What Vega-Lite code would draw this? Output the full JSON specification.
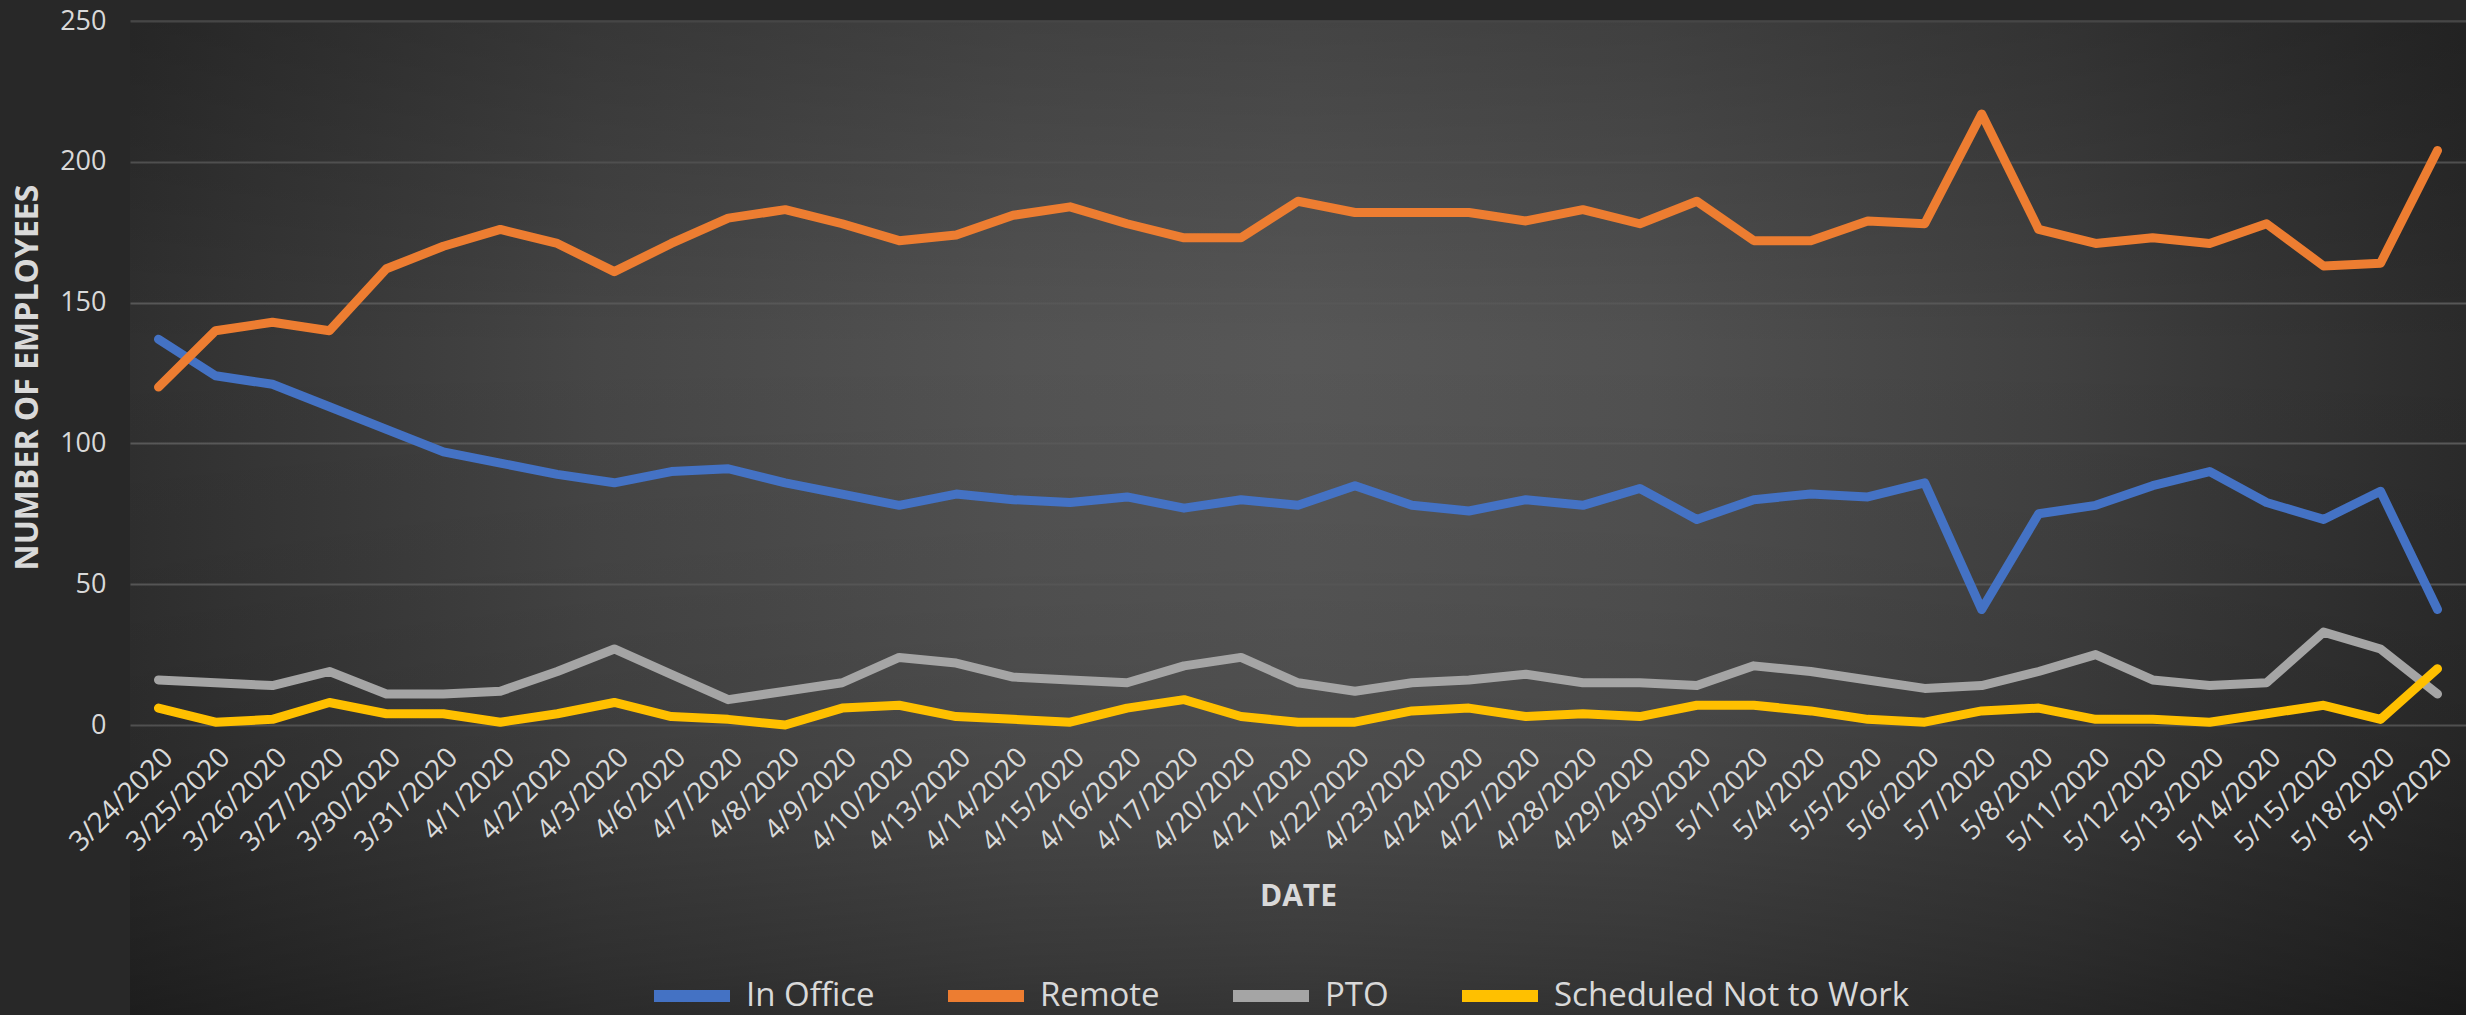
{
  "$schema": "https://vega.github.io/schema/vega-lite/v6.json",
  "width": 2336,
  "height": 994,
  "autosize": {"type": "none"},
  "padding": {"left": 130, "top": 21, "right": 0, "bottom": 0},
  "background": "#282828",
  "config": {
    "font": "Open Sans",
    "view": {
      "stroke": null,
      "fill": {
        "gradient": "linear", "x1": 0, "y1": 0, "x2": 1, "y2": 0,
        "stops": [
          {"offset": 0, "color": "#303030"},
          {"offset": 0.2, "color": "#464646"},
          {"offset": 0.38, "color": "#535353"},
          {"offset": 0.5, "color": "#575757"},
          {"offset": 0.65, "color": "#515151"},
          {"offset": 0.82, "color": "#414141"},
          {"offset": 1, "color": "#2b2b2b"}
        ]
      }
    },
    "axis": {"tickSize": 0, "ticks": false, "domain": false}
  },
  "datasets": {
    "counts": [
      {"date": "3/24/2020", "In Office": 137, "Remote": 120, "PTO": 16, "Scheduled Not to Work": 6},
      {"date": "3/25/2020", "In Office": 124, "Remote": 140, "PTO": 15, "Scheduled Not to Work": 1},
      {"date": "3/26/2020", "In Office": 121, "Remote": 143, "PTO": 14, "Scheduled Not to Work": 2},
      {"date": "3/27/2020", "In Office": 113, "Remote": 140, "PTO": 19, "Scheduled Not to Work": 8},
      {"date": "3/30/2020", "In Office": 105, "Remote": 162, "PTO": 11, "Scheduled Not to Work": 4},
      {"date": "3/31/2020", "In Office": 97, "Remote": 170, "PTO": 11, "Scheduled Not to Work": 4},
      {"date": "4/1/2020", "In Office": 93, "Remote": 176, "PTO": 12, "Scheduled Not to Work": 1},
      {"date": "4/2/2020", "In Office": 89, "Remote": 171, "PTO": 19, "Scheduled Not to Work": 4},
      {"date": "4/3/2020", "In Office": 86, "Remote": 161, "PTO": 27, "Scheduled Not to Work": 8},
      {"date": "4/6/2020", "In Office": 90, "Remote": 171, "PTO": 18, "Scheduled Not to Work": 3},
      {"date": "4/7/2020", "In Office": 91, "Remote": 180, "PTO": 9, "Scheduled Not to Work": 2},
      {"date": "4/8/2020", "In Office": 86, "Remote": 183, "PTO": 12, "Scheduled Not to Work": 0},
      {"date": "4/9/2020", "In Office": 82, "Remote": 178, "PTO": 15, "Scheduled Not to Work": 6},
      {"date": "4/10/2020", "In Office": 78, "Remote": 172, "PTO": 24, "Scheduled Not to Work": 7},
      {"date": "4/13/2020", "In Office": 82, "Remote": 174, "PTO": 22, "Scheduled Not to Work": 3},
      {"date": "4/14/2020", "In Office": 80, "Remote": 181, "PTO": 17, "Scheduled Not to Work": 2},
      {"date": "4/15/2020", "In Office": 79, "Remote": 184, "PTO": 16, "Scheduled Not to Work": 1},
      {"date": "4/16/2020", "In Office": 81, "Remote": 178, "PTO": 15, "Scheduled Not to Work": 6},
      {"date": "4/17/2020", "In Office": 77, "Remote": 173, "PTO": 21, "Scheduled Not to Work": 9},
      {"date": "4/20/2020", "In Office": 80, "Remote": 173, "PTO": 24, "Scheduled Not to Work": 3},
      {"date": "4/21/2020", "In Office": 78, "Remote": 186, "PTO": 15, "Scheduled Not to Work": 1},
      {"date": "4/22/2020", "In Office": 85, "Remote": 182, "PTO": 12, "Scheduled Not to Work": 1},
      {"date": "4/23/2020", "In Office": 78, "Remote": 182, "PTO": 15, "Scheduled Not to Work": 5},
      {"date": "4/24/2020", "In Office": 76, "Remote": 182, "PTO": 16, "Scheduled Not to Work": 6},
      {"date": "4/27/2020", "In Office": 80, "Remote": 179, "PTO": 18, "Scheduled Not to Work": 3},
      {"date": "4/28/2020", "In Office": 78, "Remote": 183, "PTO": 15, "Scheduled Not to Work": 4},
      {"date": "4/29/2020", "In Office": 84, "Remote": 178, "PTO": 15, "Scheduled Not to Work": 3},
      {"date": "4/30/2020", "In Office": 73, "Remote": 186, "PTO": 14, "Scheduled Not to Work": 7},
      {"date": "5/1/2020", "In Office": 80, "Remote": 172, "PTO": 21, "Scheduled Not to Work": 7},
      {"date": "5/4/2020", "In Office": 82, "Remote": 172, "PTO": 19, "Scheduled Not to Work": 5},
      {"date": "5/5/2020", "In Office": 81, "Remote": 179, "PTO": 16, "Scheduled Not to Work": 2},
      {"date": "5/6/2020", "In Office": 86, "Remote": 178, "PTO": 13, "Scheduled Not to Work": 1},
      {"date": "5/7/2020", "In Office": 41, "Remote": 217, "PTO": 14, "Scheduled Not to Work": 5},
      {"date": "5/8/2020", "In Office": 75, "Remote": 176, "PTO": 19, "Scheduled Not to Work": 6},
      {"date": "5/11/2020", "In Office": 78, "Remote": 171, "PTO": 25, "Scheduled Not to Work": 2},
      {"date": "5/12/2020", "In Office": 85, "Remote": 173, "PTO": 16, "Scheduled Not to Work": 2},
      {"date": "5/13/2020", "In Office": 90, "Remote": 171, "PTO": 14, "Scheduled Not to Work": 1},
      {"date": "5/14/2020", "In Office": 79, "Remote": 178, "PTO": 15, "Scheduled Not to Work": 4},
      {"date": "5/15/2020", "In Office": 73, "Remote": 163, "PTO": 33, "Scheduled Not to Work": 7},
      {"date": "5/18/2020", "In Office": 83, "Remote": 164, "PTO": 27, "Scheduled Not to Work": 2},
      {"date": "5/19/2020", "In Office": 41, "Remote": 204, "PTO": 11, "Scheduled Not to Work": 20}
    ],
    "shade": [{"part": "background"}]
  },
  "layer": [
    {
      "data": {"name": "shade"},
      "mark": {
        "type": "rect",
        "fill": {
          "gradient": "linear", "x1": 0, "y1": 0, "x2": 0, "y2": 1,
          "stops": [
            {"offset": 0, "color": "rgba(0,0,0,0.22)"},
            {"offset": 0.33, "color": "rgba(0,0,0,0)"},
            {"offset": 0.55, "color": "rgba(0,0,0,0.05)"},
            {"offset": 0.73, "color": "rgba(0,0,0,0.12)"},
            {"offset": 0.82, "color": "rgba(0,0,0,0.2)"},
            {"offset": 0.95, "color": "rgba(0,0,0,0.33)"},
            {"offset": 1, "color": "rgba(0,0,0,0.4)"}
          ]
        }
      },
      "encoding": {}
    },
    {
      "data": {"name": "counts"},
      "transform": [
        {"fold": ["In Office", "Remote", "PTO", "Scheduled Not to Work"], "as": ["series", "employees"]}
      ],
      "mark": {"type": "line", "strokeWidth": 9, "strokeJoin": "round", "strokeCap": "round"},
      "encoding": {
        "x": {
          "field": "date",
          "type": "ordinal",
          "sort": null,
          "scale": {"type": "point", "padding": 0.5},
          "axis": {
            "title": "DATE",
            "zindex": 1,
            "offset": -290,
            "labelAngle": -45,
            "labelFontSize": 28,
            "labelColor": "#d9d9d9",
            "labelPadding": 18,
            "labelLimit": 300,
            "grid": false,
            "titleFontSize": 30,
            "titleFontWeight": "bold",
            "titleColor": "#d9d9d9",
            "titleY": 171,
            "titleBaseline": "middle"
          }
        },
        "y": {
          "field": "employees",
          "type": "quantitative",
          "scale": {"domain": [0, 250], "range": [704, 0], "nice": false, "zero": true},
          "axis": {
            "title": "NUMBER OF EMPLOYEES",
            "values": [0, 50, 100, 150, 200, 250],
            "grid": true,
            "gridColor": "#5a5a5a",
            "gridWidth": 2,
            "labelFontSize": 27,
            "labelColor": "#d9d9d9",
            "labelPadding": 24,
            "titleFontSize": 32,
            "titleFontWeight": "bold",
            "titleColor": "#d9d9d9",
            "titleAngle": -90,
            "titleX": -103,
            "titleY": 356,
            "titleAlign": "center",
            "titleBaseline": "middle"
          }
        },
        "color": {
          "field": "series",
          "type": "nominal",
          "scale": {
            "domain": ["In Office", "Remote", "PTO", "Scheduled Not to Work"],
            "range": ["#4472c4", "#ed7d31", "#a5a5a5", "#ffc000"]
          },
          "legend": {
            "title": null,
            "orient": "none",
            "legendX": 518,
            "legendY": 931,
            "direction": "horizontal",
            "columns": 4,
            "symbolType": "stroke",
            "symbolSize": 5776,
            "symbolStrokeWidth": 12,
            "labelFontSize": 33,
            "labelColor": "#d9d9d9",
            "labelOffset": 10,
            "columnPadding": 49,
            "labelLimit": 600,
            "padding": 0
          }
        }
      }
    }
  ]
}
